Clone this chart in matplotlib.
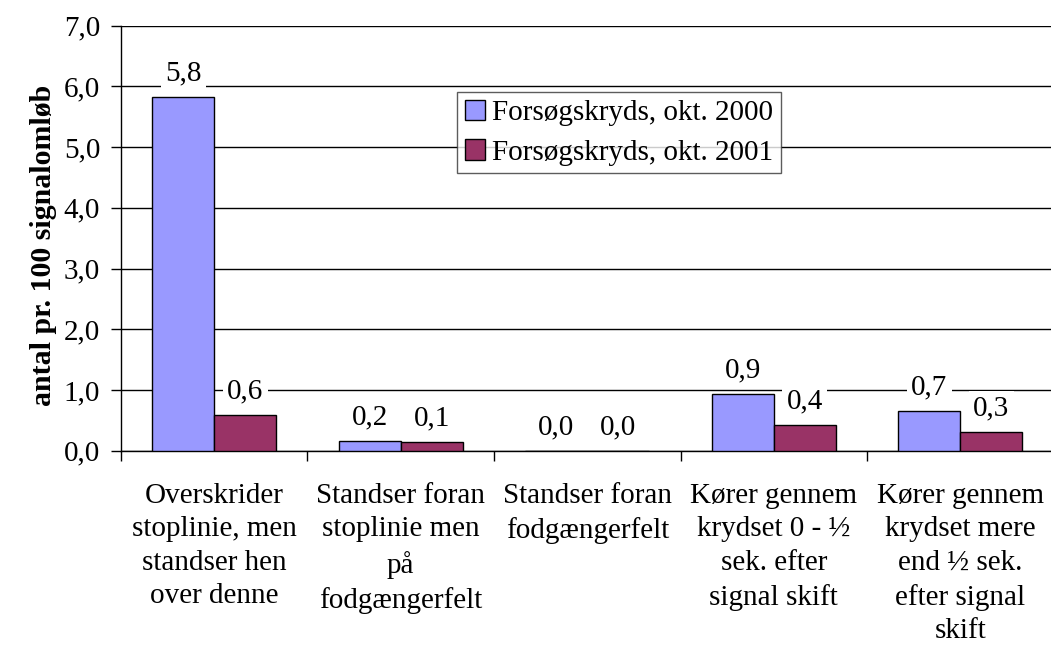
import matplotlib
matplotlib.use("Agg")
import matplotlib.pyplot as plt
import numpy as np
from matplotlib.ticker import FuncFormatter, FixedLocator
from matplotlib.patches import Patch

plt.rcParams['font.family'] = ['Liberation Serif', 'DejaVu Serif']

categories = [
    "Overskrider\nstoplinie, men\nstandser hen\nover denne",
    "Standser foran\nstoplinie men\npå\nfodgængerfelt",
    "Standser foran\nfodgængerfelt",
    "Kører gennem\nkrydset 0 - ½\nsek. efter\nsignal skift",
    "Kører gennem\nkrydset mere\nend ½ sek.\nefter signal\nskift",
]
series_names = ["Forsøgskryds, okt. 2000", "Forsøgskryds, okt. 2001"]
okt2000 = [5.83, 0.16, 0.0, 0.93, 0.66]
okt2001 = [0.58, 0.14, 0.0, 0.43, 0.30]
colors = ["#9999FF", "#993366"]

fig = plt.figure(figsize=(10.51, 6.46), dpi=100)
ax = fig.add_axes([0.1151, 0.3023, 0.8873, 0.6579])

x = np.arange(len(categories))
w = 1 / 3
for vals, off, col in [(okt2000, -w / 2, colors[0]), (okt2001, w / 2, colors[1])]:
    bars = ax.bar(x + off, vals, width=w, color=col, edgecolor="black", linewidth=1, zorder=3)
    for b, v in zip(bars, vals):
        ax.annotate(f"{v:.1f}".replace(".", ","), (b.get_x() + b.get_width() / 2, v),
                    xytext=(0, 12), textcoords="offset points", ha="center", va="baseline",
                    fontsize=21, zorder=4,
                    bbox=dict(boxstyle="square,pad=0.15", fc="white", ec="none"))

ax.set_xlim(-0.5, len(categories) - 0.5)
ax.set_ylim(0, 7)
ax.set_yticks(np.arange(0, 8, 1))
ax.yaxis.set_major_formatter(FuncFormatter(lambda v, p: f"{v:.1f}".replace(".", ",")))
ax.yaxis.grid(True, color="black", linewidth=1, zorder=0)

ax.set_xticks(x)
ax.set_xticklabels(categories, fontsize=21, linespacing=1.38)
ax.xaxis.set_minor_locator(FixedLocator(np.arange(-0.5, len(categories), 1)))
ax.tick_params(axis="x", which="major", length=0, pad=23)
ax.tick_params(axis="x", which="minor", length=7, width=1, direction="out")
ax.tick_params(axis="y", labelsize=21, length=7, width=1, pad=8)

for s in ["top", "right"]:
    ax.spines[s].set_visible(False)
ax.spines["left"].set_linewidth(1)
ax.spines["bottom"].set_linewidth(1)

ax.set_ylabel("antal pr. 100 signalomløb", fontsize=21.5, fontweight="bold",
              labelpad=5, y=0.484)

handles = [Patch(facecolor=c, edgecolor="black", linewidth=1) for c in colors]
leg = ax.legend(handles, series_names, loc="upper left", bbox_to_anchor=(0.3606, 0.843),
                fontsize=21, frameon=True, fancybox=False, edgecolor="#333333",
                handlelength=0.7, handleheight=0.7, handletextpad=0.25,
                borderpad=0.25, labelspacing=0.45, borderaxespad=0)
leg.get_frame().set_linewidth(1)

fig.savefig("out.png", dpi=100)
